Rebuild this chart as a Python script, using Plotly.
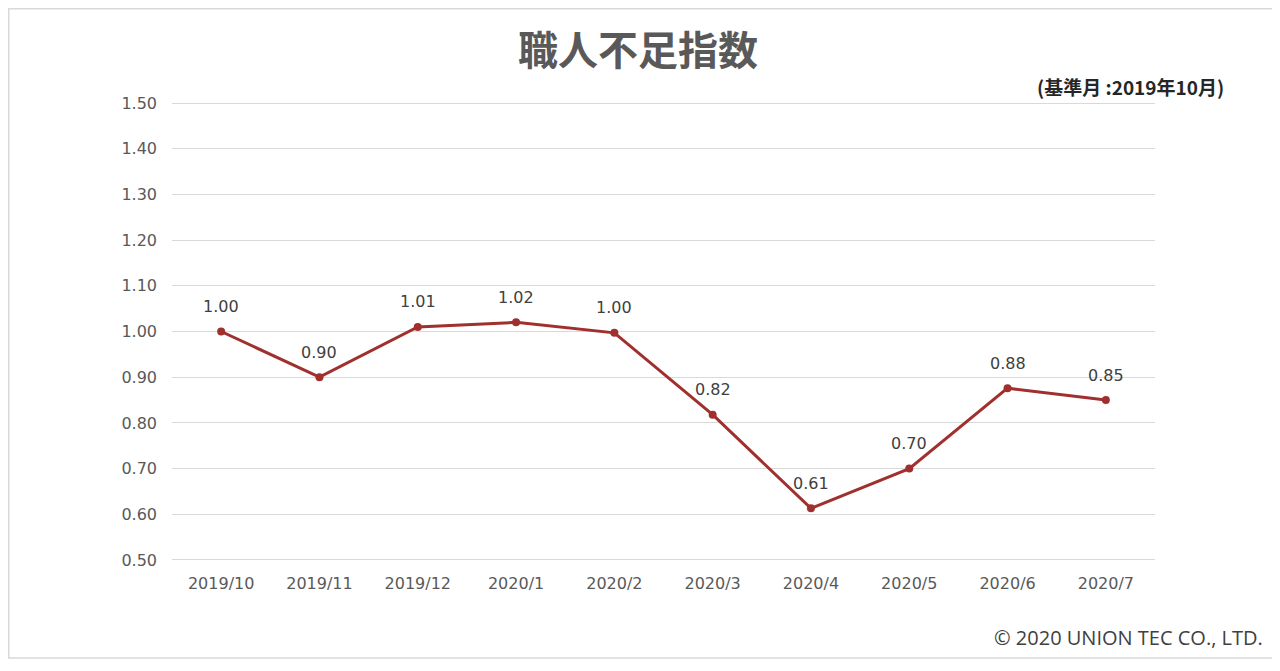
import plotly.graph_objects as go

months = ["2019/10", "2019/11", "2019/12", "2020/1", "2020/2",
          "2020/3", "2020/4", "2020/5", "2020/6", "2020/7"]
values = [1.00, 0.90, 1.01, 1.02, 0.997, 0.818, 0.613, 0.70, 0.876, 0.85]
labels = ["1.00", "0.90", "1.01", "1.02", "1.00", "0.82", "0.61", "0.70", "0.88", "0.85"]
y_ticks = [0.5, 0.6, 0.7, 0.8, 0.9, 1.0, 1.1, 1.2, 1.3, 1.4, 1.5]

LINE = "#A0302E"
TXT = "#595959"
FONT = "DejaVu Sans, sans-serif"
JP = "Noto Sans CJK JP, sans-serif"

# page has 8px body margin: figure pixel = page pixel - 8
W, H = 1272, 663
L, R, T, B = 164, 125, 93, 109
PW, PH = W - L - R, H - T - B

fig = go.Figure()
fig.add_trace(go.Scatter(
    x=months, y=values, mode="lines+markers",
    line=dict(color=LINE, width=3),
    marker=dict(color=LINE, size=8),
    hoverinfo="x+y", showlegend=False,
))

for m, v, t in zip(months, values, labels):
    fig.add_annotation(x=m, y=v, text=t, showarrow=False, yshift=25,
                       font=dict(family=FONT, size=16, color="#404040"))

fig.add_annotation(xref="paper", yref="paper", x=(638 - 8 - L) / PW, y=1, yshift=53,
                   text="<b>職人不足指数</b>", showarrow=False,
                   xanchor="center", yanchor="middle",
                   font=dict(family=JP, size=40, color=TXT))
fig.add_annotation(xref="paper", yref="paper", x=(1130 - 8 - L) / PW, y=1, yshift=15,
                   text="<b>(基準月 :2019年10月)</b>", showarrow=False,
                   xanchor="center", yanchor="middle",
                   font=dict(family=JP, size=19, color="#262626"))
fig.add_annotation(xref="paper", yref="paper", x=(1265 - 8 - L) / PW, y=0, yshift=-75,
                   text="© 2020 UNION TEC CO., LTD.", showarrow=False,
                   xanchor="right", yanchor="middle",
                   font=dict(family="Open Sans, sans-serif", size=20, color="#404040"))

fig.update_layout(
    width=W, height=H,
    margin=dict(l=L, r=R, t=T, b=B),
    paper_bgcolor="white", plot_bgcolor="white",
    xaxis=dict(type="category", range=[-0.5, 9.5], showgrid=False, showline=False,
               ticks="", ticklabelstandoff=10,
               tickfont=dict(family=FONT, size=16, color=TXT),
               fixedrange=True),
    yaxis=dict(range=[0.4956, 1.5044], tickvals=y_ticks, tickformat=".2f",
               showgrid=True, gridcolor="#D9D9D9", gridwidth=1, zeroline=False,
               showline=False, ticks="", ticklabelstandoff=14,
               tickfont=dict(family=FONT, size=16, color=TXT)),
    shapes=[dict(type="rect", xref="paper", yref="paper",
                 x0=(0.75 - L) / PW, x1=(1268 - L) / PW,
                 y0=-(650 - (H - B)) / PH, y1=1 + (T - 0.75) / PH,
                 line=dict(color="#D9D9D9", width=1.5), layer="below")],
)

fig.write_html("out.html")
